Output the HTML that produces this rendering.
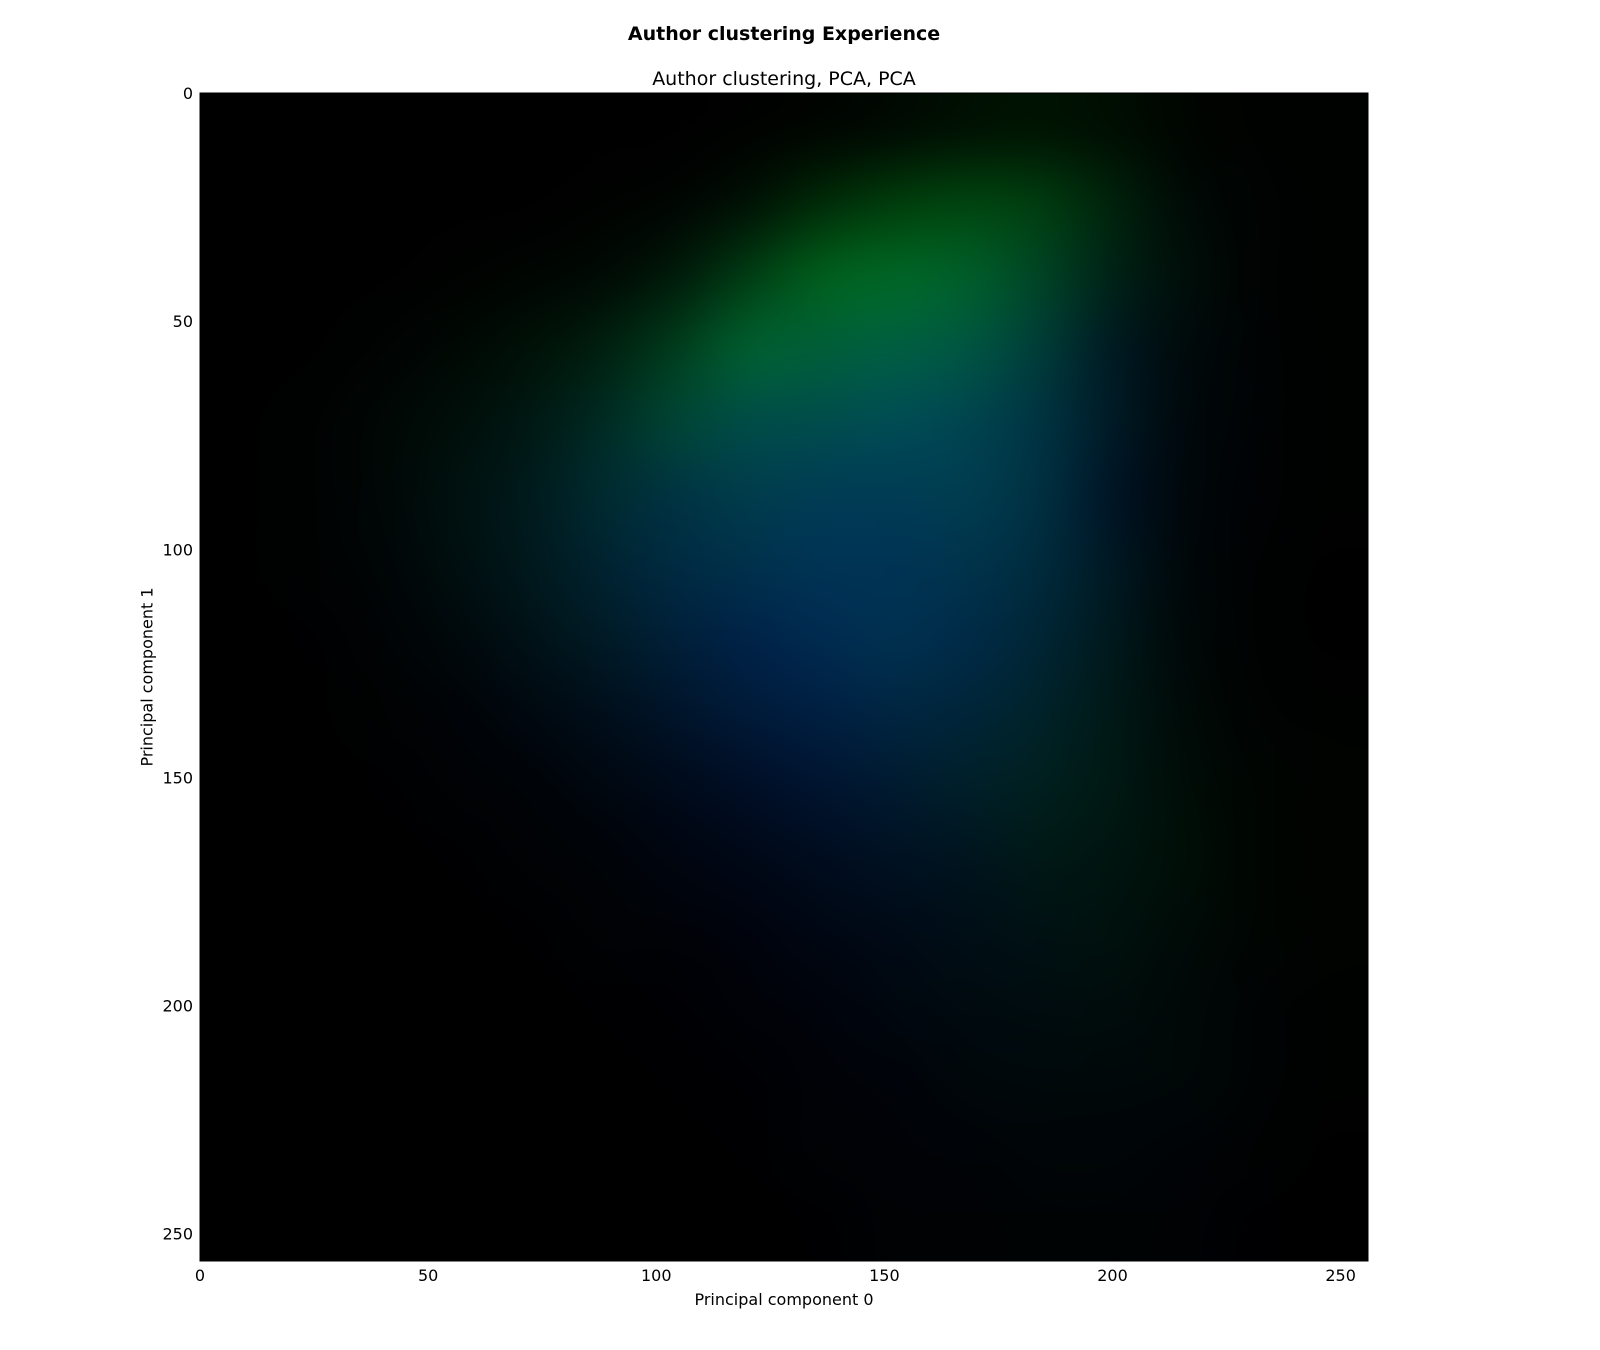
<!DOCTYPE html>
<html><head><meta charset="utf-8">
<style>
html,body{margin:0;padding:0;background:#fff;}
body{width:1600px;height:1350px;position:relative;overflow:hidden;font-family:"DejaVu Sans","Liberation Sans",sans-serif;color:#000;}
.t{position:absolute;white-space:nowrap;}
</style></head>
<body>
<div class="t" style="left:0;width:1568px;text-align:center;top:23px;font-size:19px;font-weight:bold;">Author clustering Experience</div>
<div class="t" style="left:0;width:1568px;text-align:center;top:68px;font-size:19px;">Author clustering, PCA, PCA</div>
<canvas id="img" width="1168" height="1168" style="position:absolute;left:200px;top:93px;width:1168px;height:1168px;background:#000;"></canvas>
<svg id="ax" width="1600" height="1350" style="position:absolute;left:0;top:0;pointer-events:none;"></svg>
<div class="t" style="left:0;width:1568px;text-align:center;top:1290px;font-size:16px;">Principal component 0</div>
<div class="t" style="left:147px;top:677px;font-size:16px;transform:translate(-50%,-50%) rotate(-90deg);">Principal component 1</div>
<script>
const xTicks=[0,50,100,150,200,250];
const yTicks=[0,50,100,150,200,250];
const green=[
[0,0,0,0,0,0,0,1,3,6,10,12,8,3,1,1],
[0,0,0,0,0,1,3,10,25,35,40,35,20,6,2,1],
[0,0,0,1,3,6,15,35,55,60,55,40,20,8,2,1],
[0,0,2,5,10,18,35,55,55,55,50,35,15,6,2,1],
[0,1,4,8,14,25,40,45,45,45,40,30,15,5,2,1],
[0,1,4,10,15,25,30,35,35,35,35,28,12,4,1,1],
[0,1,3,8,14,20,25,28,30,30,30,25,14,4,1,0],
[0,0,2,5,10,15,18,20,25,28,25,22,14,5,1,0],
[0,0,1,2,5,8,12,15,18,22,22,20,14,6,2,1],
[0,0,0,1,2,4,6,8,12,15,18,18,14,7,3,2],
[0,0,0,0,1,2,3,5,7,10,12,14,12,8,3,2],
[0,0,0,0,0,1,1,2,4,6,8,10,10,6,3,2],
[0,0,0,0,0,0,0,1,2,4,6,7,7,5,2,1],
[0,0,0,0,0,0,0,0,1,2,4,5,5,4,2,1],
[0,0,0,0,0,0,0,0,1,1,2,3,3,2,1,0],
[0,0,0,0,0,0,0,0,0,1,1,2,2,1,0,0]];
const blue=[
[0,0,0,0,0,0,0,0,0,1,1,1,1,0,0,0],
[0,0,0,0,0,0,1,2,4,6,8,8,6,3,1,0],
[0,0,0,0,1,2,5,10,15,20,22,20,12,5,1,0],
[0,0,1,2,4,8,15,25,30,35,35,30,18,6,2,0],
[0,1,2,5,10,18,28,38,40,45,42,35,20,6,2,0],
[0,1,3,8,15,25,35,40,45,45,42,35,20,6,2,0],
[0,1,3,8,15,25,35,40,45,45,40,32,18,5,1,0],
[0,1,2,6,12,20,30,38,42,42,38,28,15,4,1,0],
[0,0,1,4,8,14,22,30,35,35,30,22,12,4,1,0],
[0,0,1,2,4,8,14,20,25,25,22,16,10,4,1,0],
[0,0,0,1,2,4,8,12,16,18,16,12,8,4,1,0],
[0,0,0,0,1,2,4,7,10,12,12,10,7,4,1,0],
[0,0,0,0,0,1,2,4,6,8,8,8,6,4,2,0],
[0,0,0,0,0,0,1,2,4,5,6,6,5,4,2,0],
[0,0,0,0,0,0,0,1,2,3,4,4,4,3,1,0],
[0,0,0,0,0,0,0,0,1,2,2,2,2,2,1,0]];
const X0=200,Y0=93,W=1168,H=1168,DMAX=256,GAIN=1.7;
const sx=v=>X0+v/DMAX*W, sy=v=>Y0+v/DMAX*H;
const n=green.length,m=green[0].length;
const small=document.createElement('canvas');small.width=m;small.height=n;
const sctx=small.getContext('2d');const id=sctx.createImageData(m,n);
for(let r=0;r<n;r++)for(let c=0;c<m;c++){const k=(r*m+c)*4;
id.data[k]=0;id.data[k+1]=Math.min(255,green[r][c]*GAIN);id.data[k+2]=Math.min(255,blue[r][c]*GAIN*1.1);id.data[k+3]=255;}
sctx.putImageData(id,0,0);
const ctx=document.getElementById('img').getContext('2d');
ctx.fillStyle='#000';ctx.fillRect(0,0,W,H);
ctx.imageSmoothingEnabled=true;ctx.imageSmoothingQuality='high';
ctx.drawImage(small,0,0,W,H);
const svg=document.getElementById('ax');const NS='http://www.w3.org/2000/svg';
function mk(t,a){const e=document.createElementNS(NS,t);for(const k in a)e.setAttribute(k,a[k]);svg.appendChild(e);return e;}
const fr=mk('rect',{x:X0,y:Y0,width:W,height:H,fill:'none',stroke:'#000','stroke-width':1});


xTicks.forEach(v=>{const x=sx(v);
const l=mk('line',{x1:x,x2:x,y1:Y0+H,y2:Y0+H-8,stroke:'#000'});


const t=mk('text',{x:x,y:Y0+H+20,'text-anchor':'middle','font-size':16,'font-family':'DejaVu Sans, Liberation Sans, sans-serif'});
t.textContent=v;

});
yTicks.forEach(v=>{const y=sy(v);
const l=mk('line',{x1:X0,x2:X0+8,y1:y,y2:y,stroke:'#000'});


const t=mk('text',{x:X0-7,y:y+6,'text-anchor':'end','font-size':16,'font-family':'DejaVu Sans, Liberation Sans, sans-serif'});
t.textContent=v;

});
</script>
</body></html>
